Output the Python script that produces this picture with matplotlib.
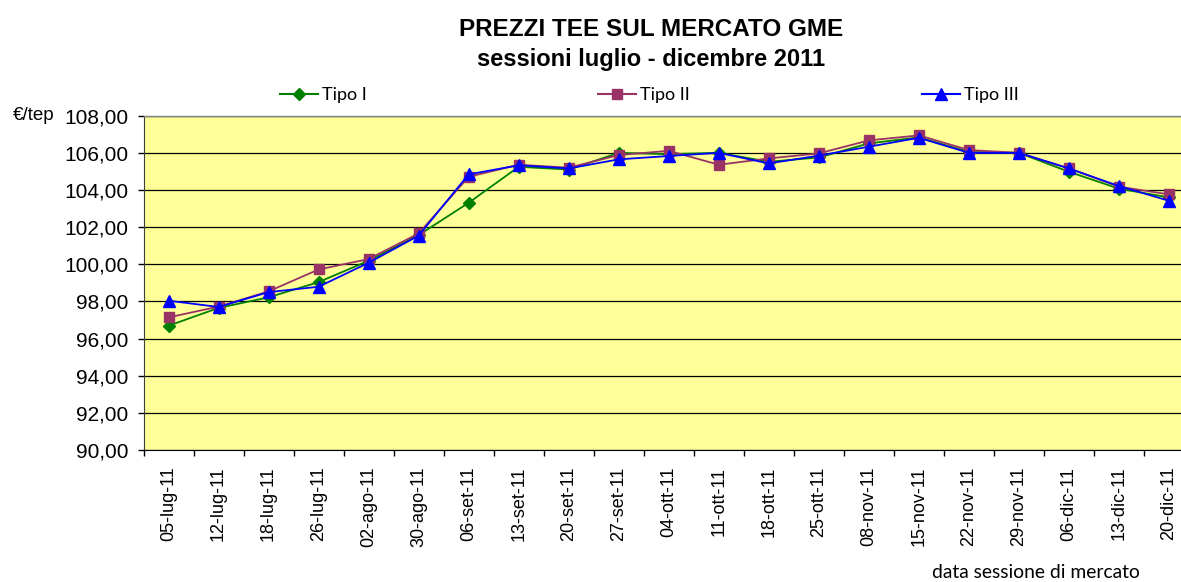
import matplotlib
matplotlib.use("Agg")
import matplotlib.pyplot as plt
from matplotlib.lines import Line2D
from matplotlib.ticker import FixedLocator, FuncFormatter

dates = ["05-lug-11", "12-lug-11", "18-lug-11", "26-lug-11", "02-ago-11", "30-ago-11",
         "06-set-11", "13-set-11", "20-set-11", "27-set-11", "04-ott-11", "11-ott-11",
         "18-ott-11", "25-ott-11", "08-nov-11", "15-nov-11", "22-nov-11", "29-nov-11",
         "06-dic-11", "13-dic-11", "20-dic-11"]
tipo_1 = [96.69, 97.65, 98.22, 99.04, 100.19, 101.57, 103.31, 105.25, 105.10, 106.00,
          105.93, 106.00, 105.52, 105.75, 106.51, 106.83, 106.05, 106.00, 104.98, 104.07, 103.60]
tipo_2 = [97.14, 97.72, 98.54, 99.72, 100.28, 101.66, 104.71, 105.36, 105.20, 105.88,
          106.11, 105.36, 105.70, 105.97, 106.67, 106.94, 106.15, 106.00, 105.16, 104.18, 103.76]
tipo_3 = [98.04, 97.70, 98.50, 98.79, 100.08, 101.54, 104.84, 105.33, 105.16, 105.65,
          105.83, 106.00, 105.43, 105.85, 106.33, 106.81, 106.00, 106.00, 105.16, 104.21, 103.42]
y_ticks = [90, 92, 94, 96, 98, 100, 102, 104, 106, 108]
series_names = ["Tipo I", "Tipo II", "Tipo III"]

W, H = 1181, 582
fig = plt.figure(figsize=(W / 100, H / 100), dpi=100)
left, right, top, bottom = 143.5, 1194, 115.7, 450
ax = fig.add_axes([left / W, 1 - bottom / H, (right - left) / W, (bottom - top) / H])
ax.set_facecolor("#FFFF99")

x = list(range(len(dates)))
styles = [
    dict(color="#008000", marker="D", markersize=6.5),
    dict(color="#993366", marker="s", markersize=7.5),
    dict(color="#0000FF", marker="^", markersize=9),
]
for vals, st in zip([tipo_1, tipo_2, tipo_3], styles):
    ax.plot(x, vals, lw=1.3, color=st["color"], marker=st["marker"],
            markersize=st["markersize"], markerfacecolor=st["color"],
            markeredgecolor=st["color"], zorder=3, clip_on=False)

ax.set_ylim(90, 108)
ax.set_xlim(-0.5, len(dates) - 0.5)
ax.set_yticks(y_ticks)
ax.yaxis.set_major_formatter(FuncFormatter(lambda v, p: f"{v:.2f}".replace(".", ",")))
ax.grid(axis="y", color="black", lw=0.9, zorder=1)
ax.set_axisbelow(True)

ax.set_xticks(x)
ax.set_xticklabels(dates, rotation=90, fontsize=13, family="Liberation Sans")
ax.xaxis.set_minor_locator(FixedLocator([i - 0.5 for i in range(len(dates) + 1)]))
ax.tick_params(axis="x", which="major", length=0, pad=12)
ax.tick_params(axis="x", which="minor", length=4, width=1, color="black", direction="out")
ax.tick_params(axis="y", length=4, width=1, pad=7, labelsize=15, color="black")
for lab in ax.get_yticklabels():
    lab.set_family("Liberation Sans")

for s in ["top", "right"]:
    ax.spines[s].set_color("#808080")
    ax.spines[s].set_linewidth(1)
ax.spines["left"].set_color("#404040")
ax.spines["bottom"].set_color("black")

fig.text(651 / W, 1 - 36 / H, "PREZZI TEE SUL MERCATO GME", ha="center", va="baseline",
         fontsize=17.5, fontweight="bold", family="Liberation Sans")
fig.text(651 / W, 1 - 66 / H, "sessioni luglio - dicembre 2011", ha="center", va="baseline",
         fontsize=17, fontweight="bold", family="Liberation Sans")
fig.text(13 / W, 1 - 116 / H, "€/tep", ha="left", va="center", fontsize=13.5,
         family="Liberation Sans")
fig.text(932 / W, 1 - 578 / H, "data sessione di mercato", ha="left", va="baseline",
         fontsize=13.9, family="Lato")

leg_x = [280, 598, 922]
for name, st, lx in zip(series_names, styles, leg_x):
    h = Line2D([], [], lw=1.5, color=st["color"], marker=st["marker"],
               markersize=st["markersize"] * 0.9, markerfacecolor=st["color"],
               markeredgecolor=st["color"])
    fig.legend([h], [name], loc="center left", bbox_to_anchor=(lx / W, 1 - 95 / H),
               frameon=False, borderpad=0, borderaxespad=0,
               handlelength=2.1, handletextpad=0.25, prop={"family": "Lato", "size": 13})

fig.savefig("out.png", dpi=100)
